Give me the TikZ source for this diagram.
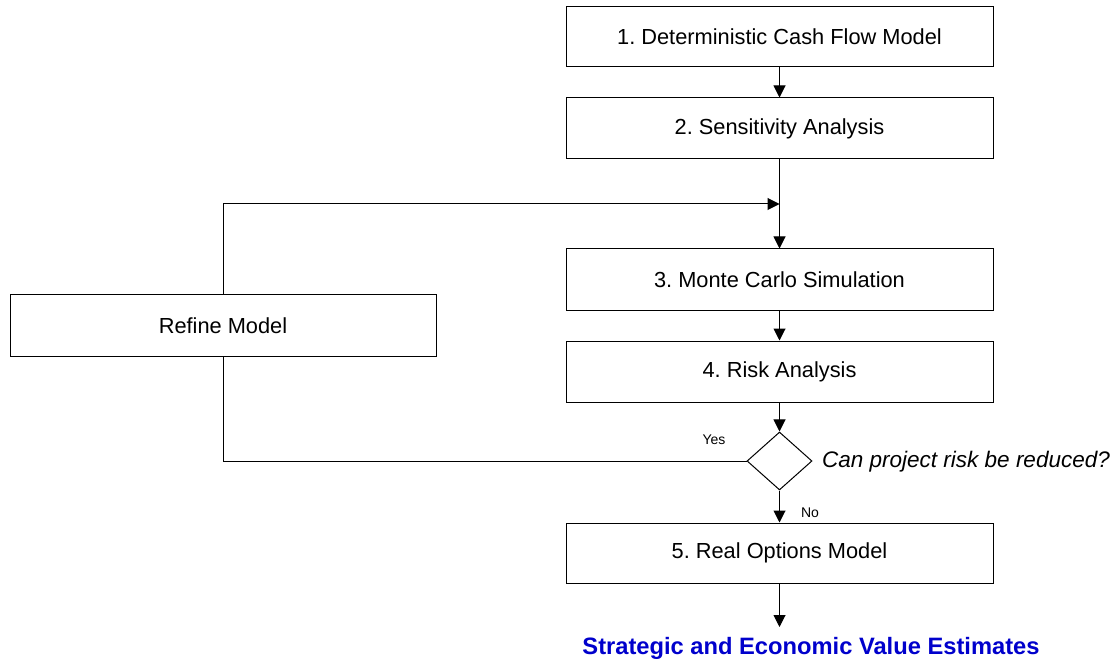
\documentclass[tikz,border=0pt]{standalone}
\usepackage{fontspec}
\setmainfont{Liberation Sans}
\frenchspacing
\usetikzlibrary{arrows.meta,shapes.geometric}
\definecolor{valueblue}{RGB}{0,0,204}
\begin{document}
\begin{tikzpicture}[x=1pt,y=-1pt,
    stage/.style={draw,line width=1pt,inner sep=0pt,minimum width=427pt,minimum height=61pt,
      font=\fontsize{21.8}{26}\selectfont},
    flow/.style={line width=1pt,-{Triangle[length=12pt,width=12pt]}},
    small/.style={inner sep=0pt,font=\fontsize{14}{16}\selectfont}]
  \useasboundingbox (0,0) rectangle (1116,660);
  \node[stage,minimum height=60pt] (model) at (779.5,37) {1. Deterministic Cash Flow Model};
  \node[stage] (sens) at (779.5,128.5) {2. Sensitivity Analysis};
  \node[stage] (monte) at (779.5,279.5) {3. Monte Carlo Simulation};
  \node[stage] (risk) at (779.5,371.5) {4. Risk Analysis};
  \node[stage,minimum height=60pt] (options) at (779.5,553) {5. Real Options Model};
  \node[stage,minimum width=426pt] (refine) at (223,325.5) {Refine Model};
  \node[draw,diamond,line width=1pt,inner sep=0pt,minimum width=65pt,minimum height=58pt] (reduce) at (779.5,461) {};
  \coordinate (join) at (779.5,204);
  \coordinate (out) at (779.5,627);
  % main chain
  \draw[flow] (model) -- (sens);
  \draw[flow] (sens) -- (monte);
  \draw[flow] (monte) -- (risk);
  \draw[flow] (risk) -- (reduce);
  \draw[flow] (reduce) -- (options);
  \draw[flow] (options) -- (out);
  % loop back
  \draw[line width=1pt] (reduce.west) -| (refine.south);
  \draw[flow] (refine.north) |- (join);
  \node[small,anchor=base] (yes) at (714,444) {Yes};
  \node[small,anchor=base] (no) at (810,517) {No};
  \node[anchor=base west,inner sep=0pt,font=\fontsize{22.5}{27}\selectfont\itshape] (question) at (822,467) {Can project risk be reduced?};
  \node[anchor=base,inner sep=0pt,text=valueblue,font=\fontsize{23.7}{28}\selectfont\bfseries] (value) at (811,654) {Strategic and Economic Value Estimates};
\end{tikzpicture}
\end{document}
